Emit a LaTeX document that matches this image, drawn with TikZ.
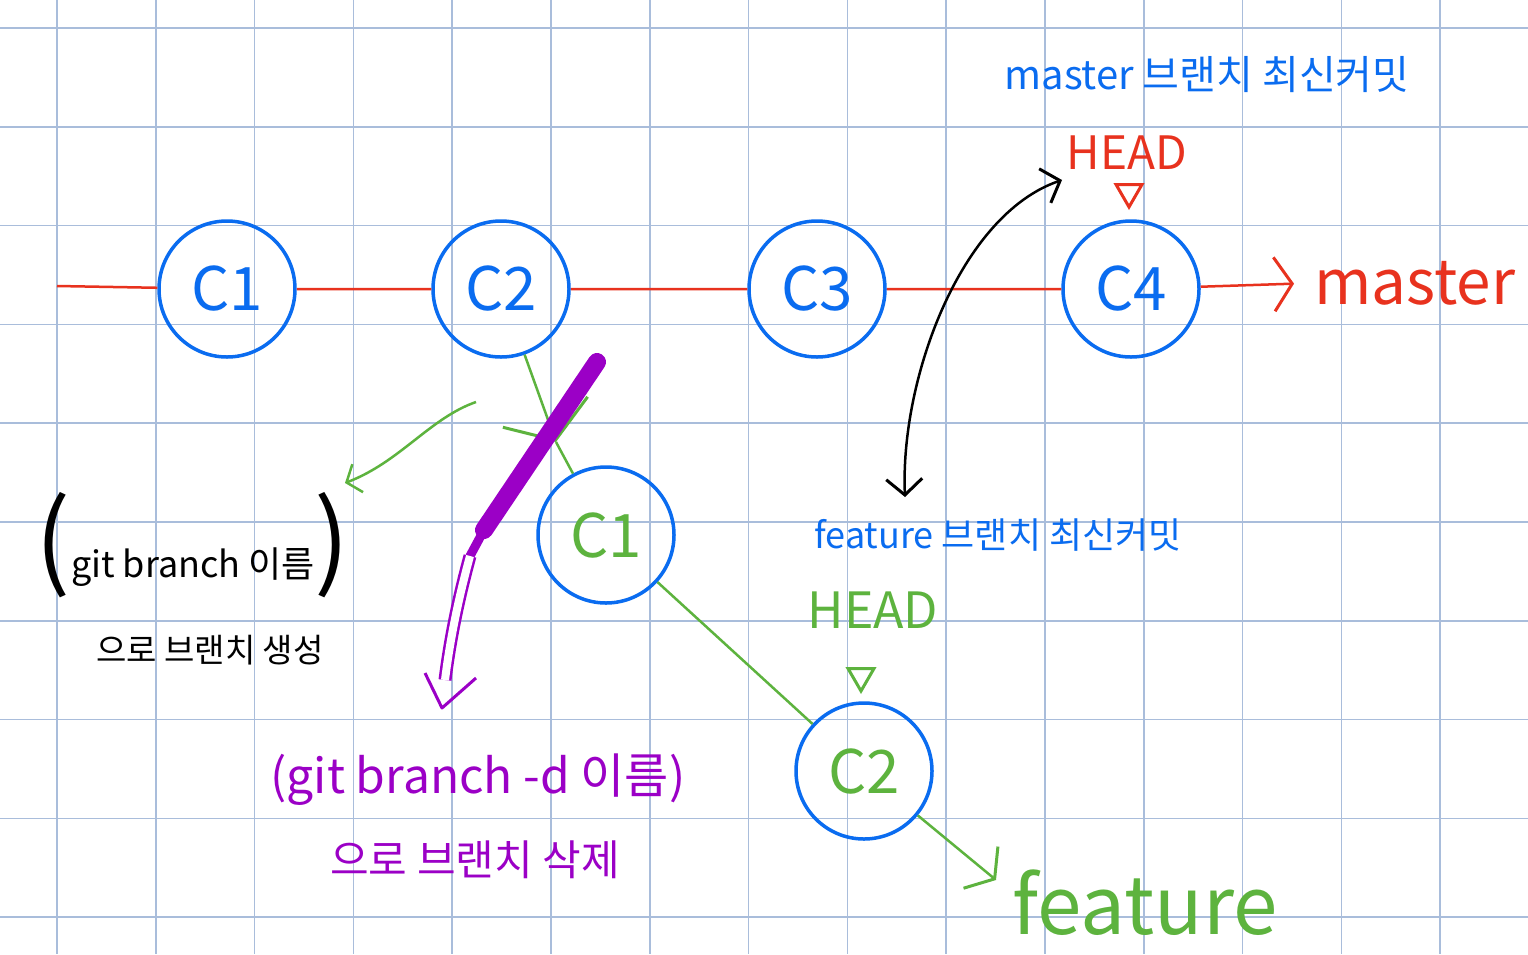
\documentclass[tikz,border=0pt]{standalone}
\usepackage{fontspec}
\newfontfamily\kr{Noto Sans CJK KR}
\usetikzlibrary{positioning,arrows.meta,shapes.geometric,calc}
\definecolor{gridc}{HTML}{A9BDDB}
\definecolor{penblue}{HTML}{0A6CF0}
\definecolor{penred}{HTML}{E8321E}
\definecolor{pengreen}{HTML}{5DB33E}
\definecolor{penpurple}{HTML}{9B00C6}
\tikzset{commit node/.style={circle,draw=penblue,line width=3.5pt,minimum
size=136pt,inner sep=0pt,font=\kr\fontsize{60}{60}\selectfont},
hand/.style={font=\kr\fontsize{#1}{#1}\selectfont,inner sep=0pt},
head mark/.style={regular polygon,regular polygon sides=3,shape border rotate=180,
draw,line width=3pt,minimum size=30pt,inner sep=0pt},
barb/.style={-{Straight Barb[length=18pt,width=54pt,line width=3pt]}}}

\begin{document}
\begin{tikzpicture}[x=1pt,y=-1pt]
\useasboundingbox (0,0) rectangle (1528,954);
\fill[white] (0,0) rectangle (1528,954);
% grid paper
\foreach \gx in {0,...,14}
  \draw[gridc,line width=1.5pt] ({57+98.8*\gx},0) -- ++(0,954);
\foreach \gy in {0,...,9}
  \draw[gridc,line width=1.5pt] (0,{28+98.8*\gy}) -- ++(1528,0);

% commits
\node[commit node,text=penblue] (m1) at (227,289) {C1};
\node[commit node,text=penblue] (m2) at (501,289) {C2};
\node[commit node,text=penblue] (m3) at (817,289) {C3};
\node[commit node,text=penblue] (m4) at (1131,289) {C4};
\node[commit node,text=pengreen] (f1) at (606,535) {C1};
\node[commit node,text=pengreen] (f2) at (864,771) {C2};

% branch names
\node[hand=62,text=penred,anchor=west] (masterlbl) at (1314,283) {master};
\node[hand=80,text=pengreen,anchor=west] (featlbl) at (1012,903) {feature};
\coordinate (feattip) at (996,880);

\coordinate (redstart) at (57,286);
\draw[penred,line width=2.5pt] (redstart) -- (m1) -- (m2) -- (m3) -- (m4);
\draw[penred,line width=2.5pt,barb,shorten >=20pt] (m4) -- (masterlbl.west);

% master HEAD
\node[hand=40,text=penblue] (mastermsg) at (1207,75) {master 브랜치 최신커밋};
\node[hand=46,text=penred] (headm) at (1127,153) {HEAD};
\node[head mark,draw=penred] (headmtri) at (1129,192) {};

% feature HEAD
\node[hand=36,text=penblue] (featmsg) at (998,535) {feature 브랜치 최신커밋};
\node[hand=50,text=pengreen] (headf) at (873,610) {HEAD};
\node[head mark,draw=pengreen] (headftri) at (861,676) {};

\coordinate (mastertip) at (1062,180);
\coordinate (featuretip) at (905,497);
\draw[line width=2.5pt,{Straight Barb[length=16pt,width=36pt,line width=3pt]}-{Straight Barb[length=16pt,width=36pt,line width=3pt]}]
  (mastertip) .. controls (960,215) and (900,380) .. (featuretip);

% feature branch
\coordinate (vtip) at (556,442);
\draw[pengreen,line width=2.5pt,-{Straight Barb[length=30pt,width=90pt,line width=3pt]}] (m2) -- (vtip);
\draw[pengreen,line width=2.5pt] (vtip) -- (f1);
\draw[pengreen,line width=2.5pt] (f1) -- (f2);
\draw[pengreen,line width=2.5pt,barb] (f2) -- (feattip);

% create
\node[hand=36] (mklbl) at (193,545)
  {{\fontsize{104}{104}\selectfont(}git branch 이름{\fontsize{104}{104}\selectfont)}};
\node[hand=33] (mksub) at (210,650) {으로 브랜치 생성};
\coordinate (mkfrom) at (476,402);
\coordinate (mkto) at (345,483);
\draw[pengreen,line width=2.5pt,-{Straight Barb[length=12pt,width=30pt,line width=2.5pt]}]
  (mkfrom) .. controls (430,418) and (400,462) .. (mkto);

% delete
\coordinate (scrtop) at (597,362);
\coordinate (scrbot) at (484,530);
\coordinate (delfrom) at (470,556);
\coordinate (delto) at (442,708);
\draw[penpurple,line width=18pt,line cap=round] (scrtop) -- (scrbot);
\draw[penpurple,line width=9pt,line cap=round] (scrbot) -- (delfrom);
\draw[penpurple,line width=2.5pt,double=white,double distance=8pt]
  (delfrom) .. controls (458,600) and (450,640) .. ($(delto)+(3,-28)$);
\draw[penpurple,line width=3pt,line join=round] ($(delto)+(-17,-35)$) -- (delto) -- ($(delto)+(34,-30)$);
\node[hand=48,text=penpurple] (dellbl) at (478,780) {(git branch -d 이름)};
\node[hand=42,text=penpurple] (delsub) at (475,860) {으로 브랜치 삭제};
\end{tikzpicture}
\end{document}
